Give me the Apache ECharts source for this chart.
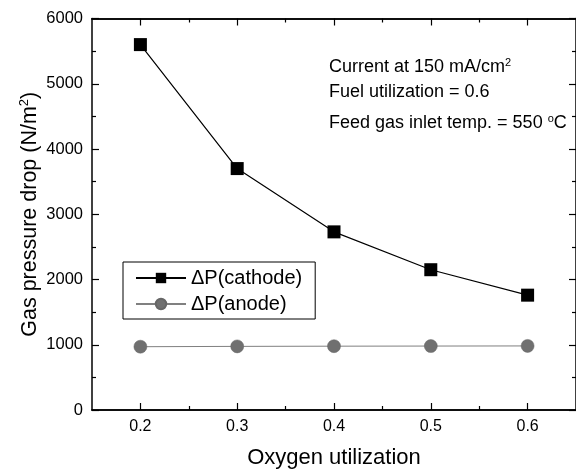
<!DOCTYPE html>
<html>
<head>
<meta charset="utf-8">
<script src="https://cdn.jsdelivr.net/npm/echarts@6/dist/echarts.min.js"></script>
<style>html,body{margin:0;padding:0;background:#fff}#c{width:576px;height:474px}</style>
</head>
<body>
<div id="c"></div>
<script>
var oxygenUtil = [0.2, 0.3, 0.4, 0.5, 0.6];
var cathode = [5600, 3700, 2730, 2150, 1760];
var anode = [970, 975, 978, 980, 982];
var xMajor = [0.2, 0.3, 0.4, 0.5, 0.6];
var xMinor = [0.25, 0.35, 0.45, 0.55];

var FONT = '"Liberation Sans", Arial, sans-serif';
var chart = echarts.init(document.getElementById('c'));

function xAx(pos, values, len, labels) {
  return {
    type: 'value', position: pos, min: 0.15, max: 0.65,
    axisLine: {show: true, lineStyle: {color: '#000', width: 1.5}},
    axisTick: {show: true, inside: true, length: len, customValues: values, lineStyle: {color: '#000', width: 1.2}},
    axisLabel: labels ? {show: true, customValues: values, margin: 9, color: '#000', fontSize: 16, fontFamily: FONT,
      formatter: function (v) { return v.toFixed(1); }} : {show: false},
    splitLine: {show: false}
  };
}
function yAx(pos, labels) {
  return {
    type: 'value', position: pos, min: 0, max: 6000, interval: 1000,
    axisLine: {show: true, lineStyle: {color: '#000', width: 1.5}},
    axisTick: {show: true, inside: true, length: 7, lineStyle: {color: '#000', width: 1.2}},
    minorTick: {show: true, splitNumber: 2, length: 4, lineStyle: {color: '#000', width: 1.2}},
    axisLabel: labels ? {show: true, margin: 9, color: '#000', fontSize: 16.5, fontFamily: FONT,
      formatter: function (v) { return String(v); }} : {show: false},
    splitLine: {show: false}
  };
}

var xs = [xAx('bottom', xMajor, 7, true), xAx('bottom', xMinor, 4, false), xAx('top', xMajor, 7, false), xAx('top', xMinor, 4, false)];
xs[0].name = 'Oxygen utilization';
xs[0].nameLocation = 'middle';
xs[0].nameGap = 37;
xs[0].nameMoveOverlap = false;
xs[0].nameTextStyle = {color: '#000', fontSize: 22, fontFamily: FONT};

var ys = [yAx('left', true), yAx('right', false)];
ys[0].name = 'Gas pressure drop (N/m{sup|2})';
ys[0].nameLocation = 'middle';
ys[0].nameGap = 49;
ys[0].nameMoveOverlap = false;
ys[0].nameTextStyle = {color: '#000', fontSize: 21.5, fontFamily: FONT,
  rich: {sup: {fontSize: 13, verticalAlign: 'top', fontFamily: FONT, color: '#000', padding: [0, 0, 12, 0]}}};

chart.setOption({
  animation: false,
  backgroundColor: '#fff',
  grid: {left: 92, top: 18.5, width: 491, height: 398.5, containLabel: false},
  xAxis: xs,
  yAxis: ys,
  legend: {
    orient: 'vertical', left: 123, top: 262,
    borderColor: '#000', borderWidth: 1, backgroundColor: '#fff',
    padding: [6, 13, 5, 12], itemGap: 6, itemWidth: 50, itemHeight: 13,
    textStyle: {color: '#000', fontSize: 20, fontFamily: FONT},
    data: ['\u0394P(cathode)', '\u0394P(anode)']
  },
  series: [
    {name: '\u0394P(cathode)', type: 'line', xAxisIndex: 0, yAxisIndex: 0,
     data: oxygenUtil.map(function (x, i) { return [x, cathode[i]]; }),
     symbol: 'rect', symbolSize: 13,
     itemStyle: {color: '#000'}, lineStyle: {color: '#000', width: 1.2}},
    {name: '\u0394P(anode)', type: 'line', xAxisIndex: 0, yAxisIndex: 0,
     data: oxygenUtil.map(function (x, i) { return [x, anode[i]]; }),
     symbol: 'circle', symbolSize: 13,
     itemStyle: {color: '#707070', borderColor: '#666', borderWidth: 0.5}, lineStyle: {color: '#808080', width: 1}}
  ],
  graphic: [
    {type: 'text', left: 329, top: 57, style: {text: 'Current at 150 mA/cm{sup|2}', fill: '#000', fontSize: 18, fontFamily: FONT,
      rich: {sup: {fontSize: 11, verticalAlign: 'top', fontFamily: FONT, fill: '#000', padding: [0, 0, 10, 0]}}}},
    {type: 'text', left: 329, top: 83, style: {text: 'Fuel utilization = 0.6', fill: '#000', fontSize: 18, fontFamily: FONT}},
    {type: 'text', left: 329, top: 113, style: {text: 'Feed gas inlet temp. = 550 {sup|o}C', fill: '#000', fontSize: 18, fontFamily: FONT,
      rich: {sup: {fontSize: 11, verticalAlign: 'top', fontFamily: FONT, fill: '#000', padding: [0, 0, 10, 0]}}}}
  ]
});
</script>
</body>
</html>
